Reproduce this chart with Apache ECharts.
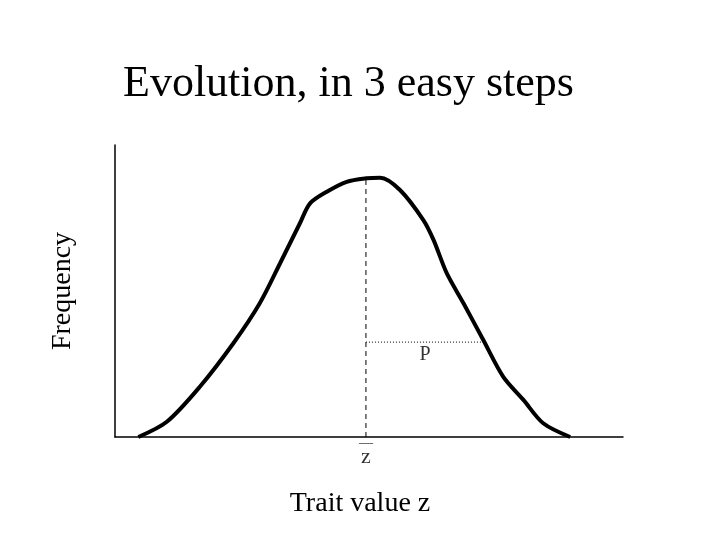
<!DOCTYPE html>
<html>
<head>
<meta charset="utf-8">
<script src="https://cdn.jsdelivr.net/npm/echarts@6/dist/echarts.min.js"></script>
<style>
  html, body { margin: 0; padding: 0; background: #fff; }
  #main { width: 720px; height: 540px; }
</style>
</head>
<body>
<div id="main"></div>
<script>
  // 分布曲线
  var traitX = [4.6, 10.2, 16.7, 23.3, 28.5, 32.5, 36.4, 38.4, 41.7, 45.6, 49.5, 52.2, 56.1, 60.7, 62.7, 65.3, 68.6, 72.5, 76.4, 80.4, 84.3, 89.6];
  var freqY = [0, 5.2, 17.2, 32.1, 45.8, 59.5, 73.2, 80.0, 84.0, 87.4, 88.6, 88.8, 84.6, 74.3, 67.5, 56.1, 45.8, 33.2, 20.7, 12.7, 4.7, 0];
  var zMean = 49.4;
  var peakY = 88.6;
  var pLevel = 32.5;
  var pRight = 72.7;

  var serif = 'Liberation Serif';
  var curve = traitX.map(function (x, i) { return [x, freqY[i]]; });

  var myChart = echarts.init(document.getElementById('main'));
  var option = {
    animation: false,
    backgroundColor: '#fff',
    title: {
      text: 'Evolution, in 3 easy steps',
      left: 118,
      top: 57,
      textStyle: { fontFamily: serif, fontSize: 44, fontWeight: 'normal', color: '#000' }
    },
    grid: { left: 115, right: 97, top: 145, bottom: 103 },
    xAxis: {
      type: 'value',
      min: 0,
      max: 100,
      name: 'Trait value z',
      nameLocation: 'middle',
      nameGap: 53,
      nameTextStyle: { fontFamily: serif, fontSize: 28, color: '#000', padding: [0, 18, 0, 0] },
      axisLine: { lineStyle: { color: '#000', width: 1.5 } },
      axisTick: { show: false },
      axisLabel: { show: false },
      splitLine: { show: false }
    },
    yAxis: {
      type: 'value',
      min: 0,
      max: 100,
      name: 'Frequency',
      nameLocation: 'middle',
      nameGap: 38,
      nameTextStyle: { fontFamily: serif, fontSize: 28, color: '#000' },
      axisLine: { show: true, lineStyle: { color: '#000', width: 1.5 } },
      axisTick: { show: false },
      axisLabel: { show: false },
      splitLine: { show: false }
    },
    series: [
      {
        type: 'line',
        data: curve,
        smooth: 0.3,
        symbol: 'none',
        lineStyle: { color: '#000', width: 4 }
      },
      {
        type: 'line',
        data: [[zMean, 0], [zMean, peakY]],
        symbol: 'none',
        lineStyle: { color: '#000', width: 1, type: [5, 4] }
      },
      {
        type: 'line',
        data: [[zMean, pLevel], [pRight, pLevel]],
        symbol: 'none',
        lineStyle: { color: '#000', width: 1, type: [1, 2] }
      },
      {
        type: 'scatter',
        symbolSize: 0,
        data: [[(zMean + pRight) / 2, pLevel]],
        label: {
          show: true,
          position: 'bottom',
          distance: 3,
          formatter: 'P',
          fontFamily: serif,
          fontSize: 20,
          color: '#000'
        }
      },
      {
        type: 'scatter',
        symbolSize: 0,
        data: [[zMean, 0]],
        label: {
          show: true,
          position: 'bottom',
          distance: 2,
          formatter: '{o|—}\n{z|z}',
          rich: {
            o: { fontFamily: serif, fontSize: 14, lineHeight: 8, color: '#000' },
            z: { fontFamily: serif, fontSize: 22, lineHeight: 20, color: '#000' }
          }
        }
      }
    ]
  };

  myChart.setOption(option);
</script>
</body>
</html>
